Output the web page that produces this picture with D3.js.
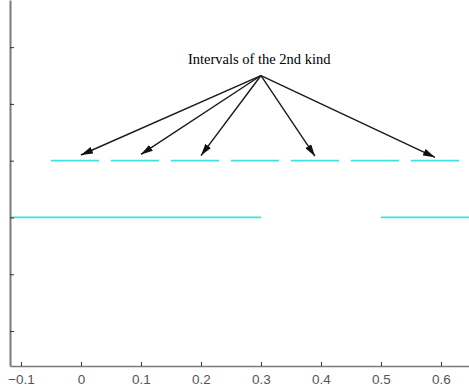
<!DOCTYPE html>
<html>
<head>
<meta charset="utf-8">
<script src="https://cdn.jsdelivr.net/npm/d3@7"></script>
<style>
  body { margin: 0; background: #fff; }
  svg { display: block; }
</style>
</head>
<body>
<svg id="chart" width="469" height="391"></svg>
<script>
// Intervals of the 2nd kind (upper level)
const upper_level = 4;
const upper_intervals = [
  [-0.05, 0.03], [0.05, 0.13], [0.15, 0.23], [0.25, 0.33],
  [0.35, 0.43], [0.45, 0.53], [0.55, 0.63],
];
// Lower level intervals
const lower_level = 3;
const lower_intervals = [[-0.2, 0.3], [0.5, 0.8]];

// Annotation
const label_text = 'Intervals of the 2nd kind';
const label_pos = [0.297, 5.71];
const arrow_origin = [0.3, 5.5];
const arrow_tips_x = [0, 0.1, 0.2, 0.39, 0.59];
const arrow_tips_y = [4.1, 4.11, 4.09, 4.08, 4.06];

const x_ticks = [-0.1, 0, 0.1, 0.2, 0.3, 0.4, 0.5, 0.6];
const y_ticks = [1, 2, 3, 4, 5, 6];

const width = 469;
const height = 391;
const margin = { left: 10, top: 0, right: 0, bottom: 25 };

const svg = d3.select('#chart');

const x = d3.scaleLinear()
  .domain([-0.1183, 0.6467])
  .range([margin.left, width - margin.right]);
const y = d3.scaleLinear()
  .domain([0.384, 6.83])
  .range([height - margin.bottom, margin.top]);

// clip to plot area
svg.append('defs').append('clipPath').attr('id', 'plot-clip')
  .append('rect')
  .attr('x', margin.left).attr('y', margin.top)
  .attr('width', width - margin.left - margin.right)
  .attr('height', height - margin.top - margin.bottom);

const plot = svg.append('g').attr('clip-path', 'url(#plot-clip)');

const line_color = '#3fe0e2';

// upper intervals
plot.append('g')
  .selectAll('line')
  .data(upper_intervals)
  .enter()
  .append('line')
  .attr('x1', (d) => x(d[0]))
  .attr('x2', (d) => x(d[1]))
  .attr('y1', y(upper_level))
  .attr('y2', y(upper_level))
  .attr('stroke', line_color)
  .attr('stroke-width', 1.8);

// lower intervals
plot.append('g')
  .selectAll('line')
  .data(lower_intervals)
  .enter()
  .append('line')
  .attr('x1', (d) => x(d[0]))
  .attr('x2', (d) => x(d[1]))
  .attr('y1', y(lower_level))
  .attr('y2', y(lower_level))
  .attr('stroke', line_color)
  .attr('stroke-width', 1.8);

// axes
const axis_color = '#7a7a7a';
const x_axis = svg.append('g')
  .attr('transform', `translate(0,${height - margin.bottom})`)
  .call(d3.axisBottom(x).tickValues(x_ticks).tickSizeInner(-4).tickSizeOuter(0)
    .tickPadding(8).tickFormat((d) => (d === 0 ? '0' : d3.format('.1f')(d))));
x_axis.select('.domain').attr('stroke', axis_color).attr('stroke-width', 1.6);
x_axis.selectAll('.tick line').attr('stroke', '#333');
x_axis.selectAll('.tick text')
  .attr('fill', '#555')
  .attr('font-family', 'Liberation Sans, Arial, sans-serif')
  .attr('font-size', 13.5);

const y_axis = svg.append('g')
  .attr('transform', `translate(${margin.left},0)`)
  .call(d3.axisLeft(y).tickValues(y_ticks).tickSizeInner(-4).tickSizeOuter(0)
    .tickFormat(''));
y_axis.select('.domain').attr('stroke', axis_color).attr('stroke-width', 2);
y_axis.selectAll('.tick line').attr('stroke', '#333');

// arrows
svg.append('defs').append('marker')
  .attr('id', 'arrowhead')
  .attr('viewBox', '0 0 12 7')
  .attr('refX', 12).attr('refY', 3.5)
  .attr('markerWidth', 12).attr('markerHeight', 7)
  .attr('markerUnits', 'userSpaceOnUse')
  .attr('orient', 'auto')
  .append('path')
  .attr('d', 'M0,0 L12,3.5 L0,7 Z')
  .attr('fill', '#111');

svg.append('g')
  .selectAll('line')
  .data(arrow_tips_x)
  .enter()
  .append('line')
  .attr('x1', x(arrow_origin[0]))
  .attr('y1', y(arrow_origin[1]))
  .attr('x2', (d) => x(d))
  .attr('y2', (d, i) => y(arrow_tips_y[i]))
  .attr('stroke', '#1a1a1a')
  .attr('stroke-width', 1.4)
  .attr('marker-end', 'url(#arrowhead)');

svg.append('text')
  .attr('x', x(label_pos[0]))
  .attr('y', y(label_pos[1]))
  .attr('text-anchor', 'middle')
  .attr('font-family', 'Liberation Serif, Times New Roman, serif')
  .attr('font-size', 14.5)
  .attr('fill', '#000')
  .text(label_text);
</script>
</body>
</html>
